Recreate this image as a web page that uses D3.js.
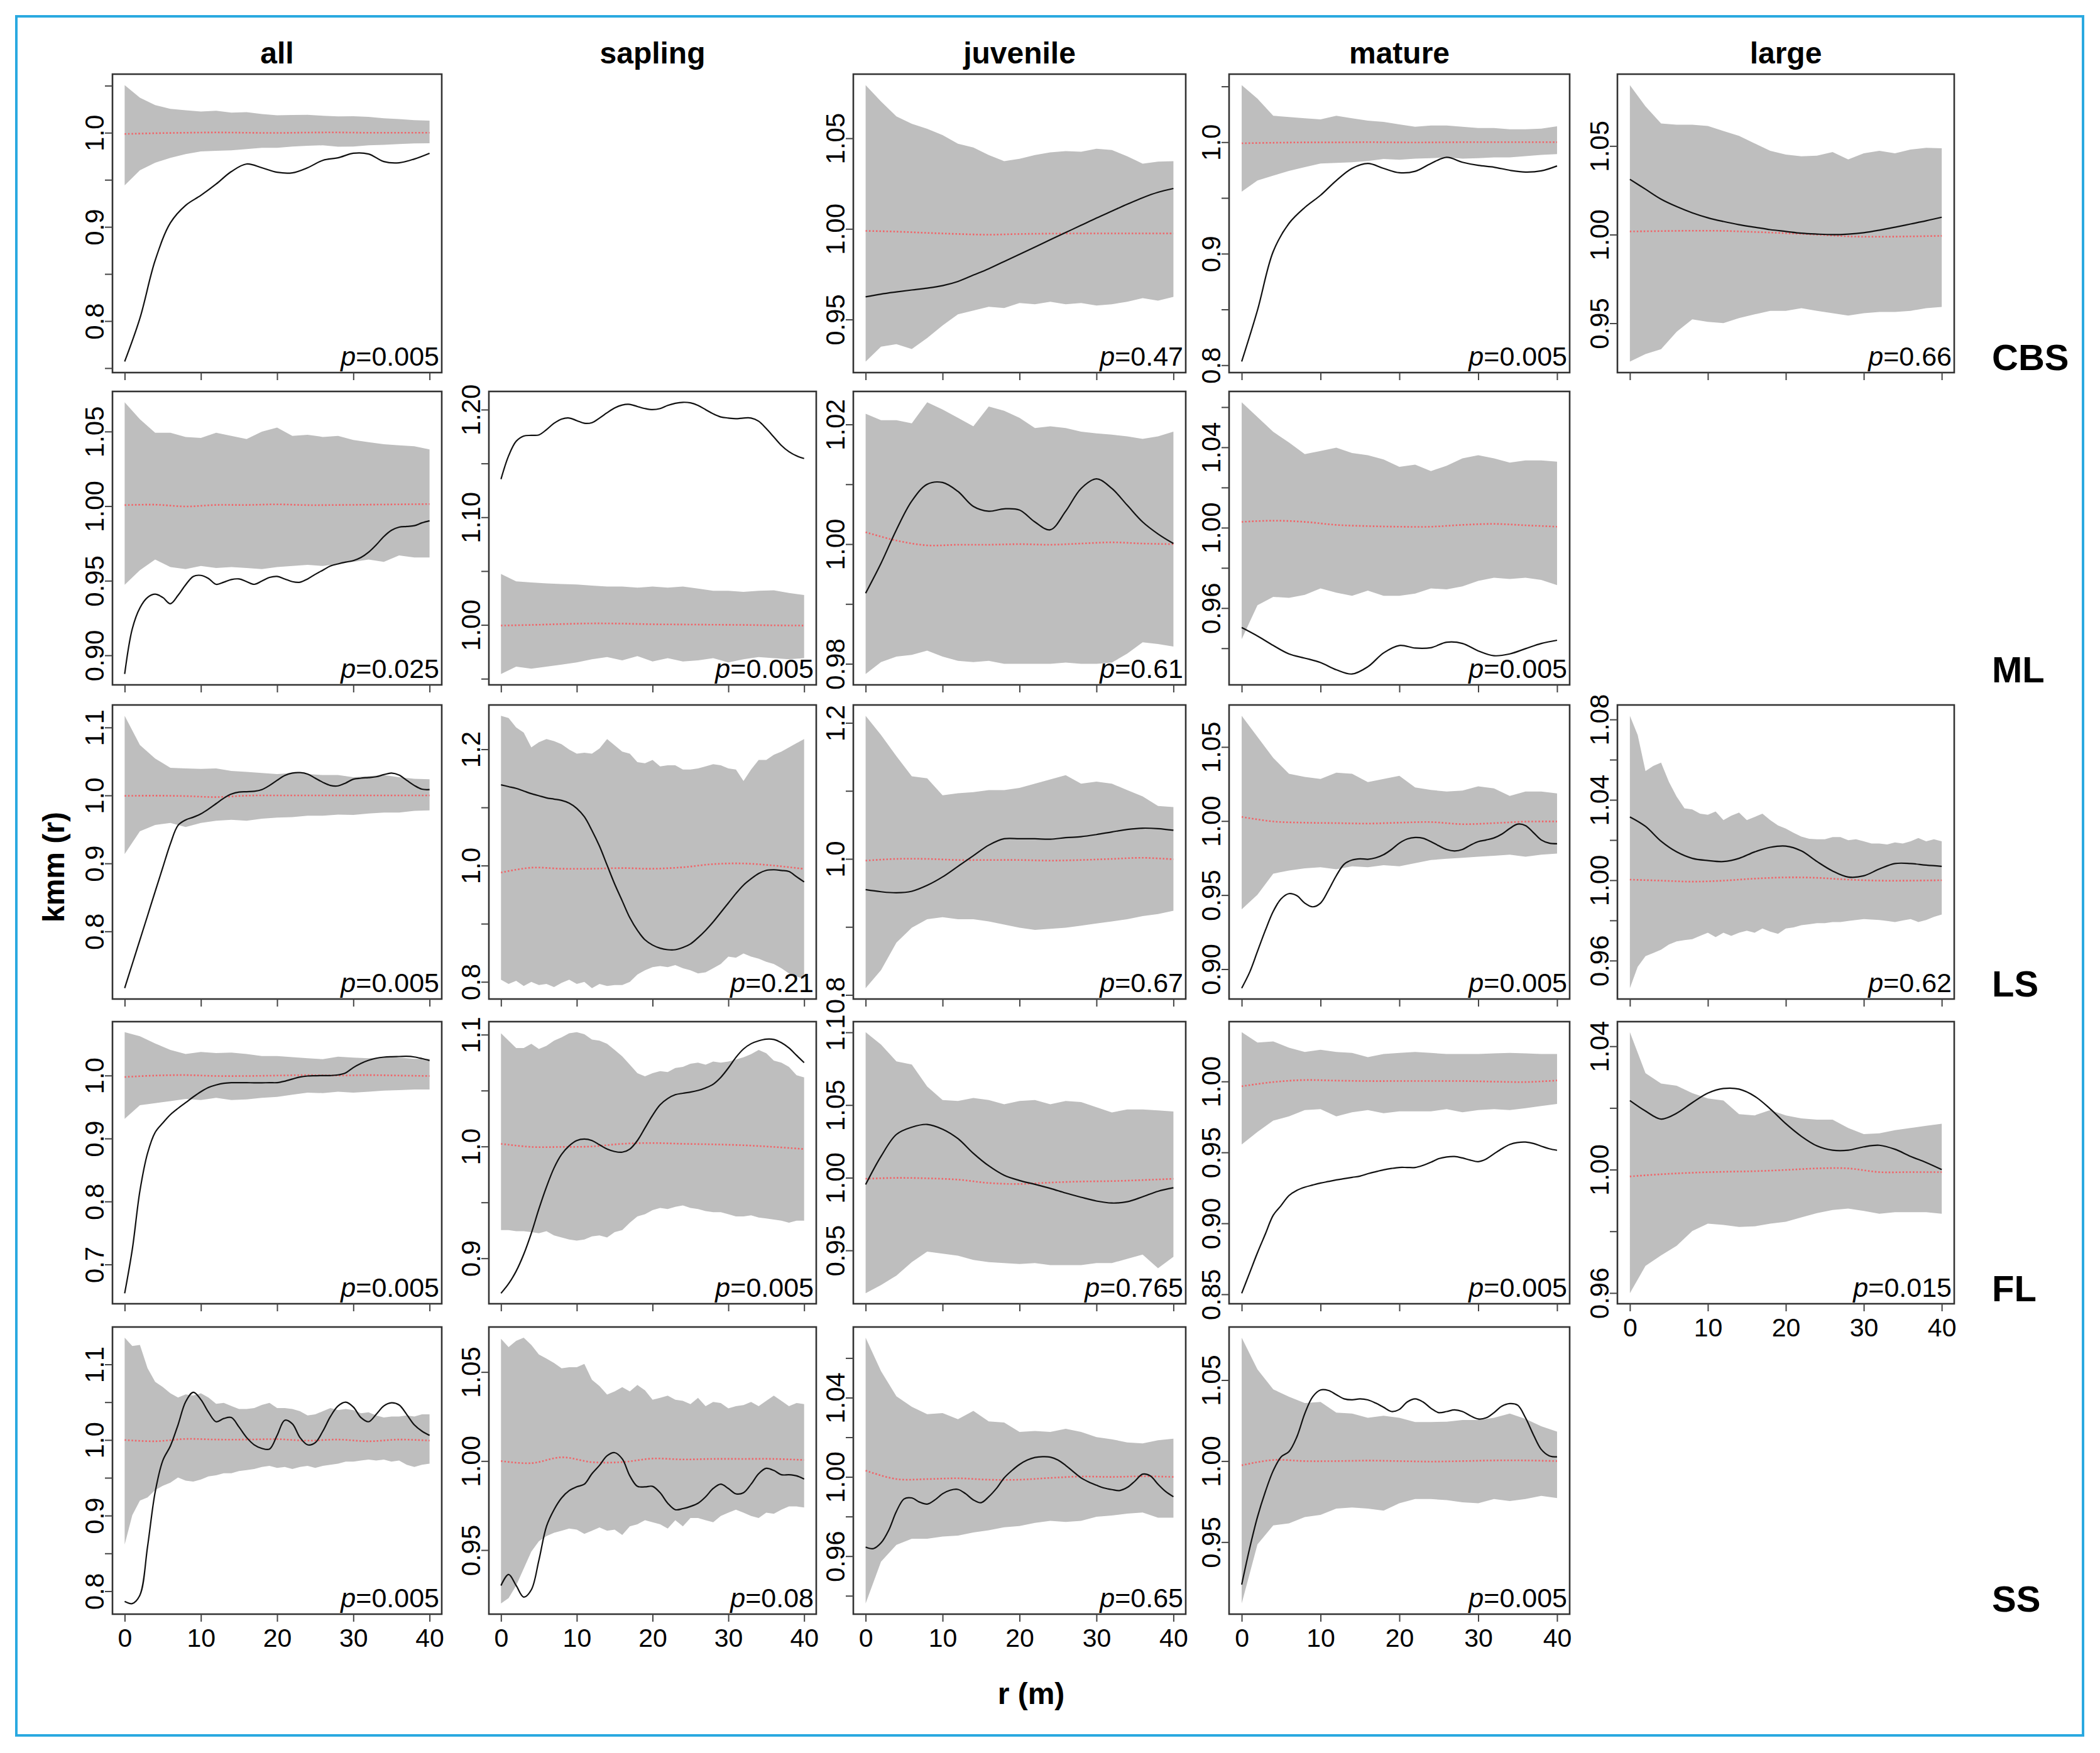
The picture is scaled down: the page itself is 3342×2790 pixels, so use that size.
<!DOCTYPE html>
<html lang="en">
<head>
<meta charset="utf-8">
<style>
  body { margin: 0; background: #fff; }
  svg { display: block; font-family: "Liberation Sans", Arial, Helvetica, sans-serif; }
</style>
</head>
<body>
<div id="chart"></div>
<script src="https://cdn.jsdelivr.net/npm/d3@7"></script>
<script>
// distance grids (m) used by the series below
const r1 = [0,1,2,3,4,5,6,7,8,9,10,11,12,13,14,15,16,17,18,19,20,21,22,23,24,25,26,27,28,29,30,31,32,33,34,35,36,37,38,39,40];
const r2 = [0,2,4,6,8,10,12,14,16,18,20,22,24,26,28,30,32,34,36,38,40];
const r4 = [0,4,8,12,16,20,24,28,32,36,40];

const sizeClasses = ["all", "sapling", "juvenile", "mature", "large"];
const habitats = ["CBS", "ML", "LS", "FL", "SS"];
const xTicks = [0, 10, 20, 30, 40];

// p values per habitat row (null = no panel)
const p_CBS = ["0.005", null, "0.47", "0.005", "0.66"];
const p_ML  = ["0.025", "0.005", "0.61", "0.005", null];
const p_LS  = ["0.005", "0.21", "0.67", "0.005", "0.62"];
const p_FL  = ["0.005", "0.005", "0.765", "0.005", "0.015"];
const p_SS  = ["0.005", "0.08", "0.65", "0.005", null];

// ---- CBS ----
const hi_CBS_all = [1.0505,1.0372,1.0293,1.0253,1.0239,1.0226,1.0234,1.0213,1.0218,1.0199,1.0186,1.0188,1.0191,1.0181,1.0173,1.0176,1.0168,1.0154,1.0146,1.0133,1.0128];
const lo_CBS_all = [0.9441,0.9601,0.9681,0.9734,0.9774,0.9801,0.9809,0.9814,0.9827,0.984,0.984,0.9854,0.9862,0.9867,0.9851,0.9854,0.9867,0.9872,0.988,0.9886,0.9888];
const mean_CBS_all = [0.9987,0.9995,1.0,1.0003,1.0,0.9998,1.0002,1.0003,1.0,1.0,1.0];
const obs_CBS_all = [0.757,0.803,0.8644,0.9043,0.9229,0.9335,0.9455,0.9588,0.9668,0.9628,0.958,0.9574,0.9628,0.9707,0.9734,0.9782,0.9774,0.9694,0.9681,0.9721,0.9782];
const yt_CBS_all = [0.75,0.8,0.85,0.9,0.95,1.0,1.05];
const yl_CBS_all = ["0.8","0.9","1.0"];

const hi_CBS_juvenile = [1.0793,1.0703,1.0621,1.058,1.0552,1.0518,1.047,1.0449,1.0408,1.0374,1.0387,1.0408,1.0422,1.0429,1.0426,1.0442,1.0435,1.0401,1.036,1.0371,1.0374];
const lo_CBS_juvenile = [0.9268,0.935,0.9364,0.9337,0.9398,0.9467,0.9529,0.9549,0.957,0.9563,0.9591,0.9584,0.9598,0.9584,0.9591,0.9577,0.9584,0.9598,0.9618,0.9604,0.9625];
const mean_CBS_juvenile = [0.9989,0.9985,0.9978,0.9972,0.9968,0.9972,0.9974,0.9975,0.9975,0.9975,0.9975];
const obs_CBS_juvenile = [0.9625,0.964,0.9652,0.9663,0.9673,0.9687,0.971,0.9745,0.978,0.982,0.986,0.99,0.994,0.998,1.002,1.006,1.0098,1.0136,1.0172,1.0202,1.0223];
const yt_CBS_juvenile = [0.95,1.0,1.05];
const yl_CBS_juvenile = ["0.95","1.00","1.05"];

const hi_CBS_mature = [1.0511,1.039,1.0237,1.0226,1.0215,1.0204,1.0237,1.0215,1.0193,1.0182,1.016,1.0138,1.0149,1.0149,1.0138,1.0127,1.0127,1.0116,1.0116,1.0121,1.0143];
const lo_CBS_mature = [0.9557,0.9656,0.97,0.9743,0.9776,0.9809,0.9814,0.982,0.9831,0.9849,0.9842,0.9853,0.9857,0.9864,0.9853,0.9857,0.9864,0.9864,0.9875,0.9886,0.9893];
const mean_CBS_mature = [0.999,0.9995,0.9998,0.9998,1.0,0.9998,0.9998,1.0,1.0,1.0,1.0];
const obs_CBS_mature = [0.8033,0.8493,0.902,0.9272,0.9414,0.9524,0.9656,0.9765,0.9809,0.9765,0.9726,0.9739,0.9809,0.9864,0.982,0.9792,0.9776,0.9748,0.9732,0.9743,0.9787];
const yt_CBS_mature = [0.8,0.85,0.9,0.95,1.0,1.05];
const yl_CBS_mature = ["0.8","0.9","1.0"];

const hi_CBS_large = [1.0843,1.0724,1.0627,1.062,1.062,1.0613,1.0585,1.0557,1.0515,1.0473,1.0452,1.0442,1.0445,1.0466,1.0424,1.0459,1.0473,1.0459,1.048,1.049,1.0487];
const lo_CBS_large = [0.9284,0.9326,0.9354,0.9452,0.9522,0.9508,0.9501,0.9529,0.955,0.957,0.957,0.9585,0.957,0.9557,0.9543,0.9557,0.9564,0.9564,0.957,0.9585,0.9592];
const mean_CBS_large = [1.0018,1.002,1.0022,1.0021,1.0015,1.0008,1.0,0.999,0.9988,0.999,0.9993];
const obs_CBS_large = [1.0312,1.0256,1.02,1.0158,1.0123,1.0095,1.0074,1.0056,1.0042,1.0028,1.0018,1.0008,1.0003,1.0,1.0003,1.0011,1.0025,1.0042,1.006,1.0078,1.0098];
const yt_CBS_large = [0.95,1.0,1.05];
const yl_CBS_large = ["0.95","1.00","1.05"];

// ---- ML ----
const hi_ML_all = [1.0696,1.0583,1.0492,1.0492,1.0464,1.0457,1.0492,1.0471,1.045,1.0499,1.0527,1.0471,1.0478,1.0464,1.0471,1.0443,1.0429,1.0415,1.0408,1.0401,1.038];
const lo_ML_all = [0.9473,0.9571,0.9642,0.9592,0.9578,0.9599,0.9585,0.9592,0.9585,0.9578,0.9592,0.9599,0.9606,0.9599,0.9613,0.9627,0.9642,0.9627,0.967,0.9656,0.9656];
const mean_ML_all = [1.0007,1.001,0.9998,1.0008,1.0008,1.0012,1.0007,1.0008,1.001,1.0012,1.0014];
const obs_ML_all = [0.8875,0.9178,0.9318,0.9388,0.941,0.9388,0.9346,0.9402,0.9473,0.9529,0.9536,0.9515,0.9476,0.949,0.9508,0.9512,0.9494,0.9476,0.9498,0.9522,0.9529,0.9512,0.9494,0.949,0.9512,0.9543,0.9571,0.9599,0.9613,0.9625,0.9635,0.9656,0.9691,0.974,0.9796,0.9838,0.9859,0.9864,0.9869,0.9888,0.9902];
const yt_ML_all = [0.9,0.95,1.0,1.05];
const yl_ML_all = ["0.90","0.95","1.00","1.05"];

const hi_ML_sapling = [1.0474,1.0405,1.0395,1.0386,1.038,1.0376,1.0366,1.0356,1.0356,1.0346,1.0356,1.0346,1.0356,1.0337,1.0317,1.0317,1.0307,1.0317,1.0321,1.0297,1.0278];
const lo_ML_sapling = [0.9544,0.9613,0.9593,0.9613,0.9632,0.9652,0.9681,0.9701,0.9671,0.971,0.9661,0.9691,0.9661,0.9671,0.9691,0.9652,0.9681,0.9701,0.9691,0.9681,0.9691];
const mean_ML_sapling = [0.9994,1.0,1.0008,1.0014,1.0012,1.0006,1.0004,1.0002,1.0,0.9996,0.9994];
const obs_ML_sapling = [1.1354,1.157,1.1706,1.1755,1.1761,1.1765,1.1814,1.1873,1.1912,1.1922,1.1898,1.1873,1.1879,1.1922,1.1971,1.2016,1.2043,1.2049,1.2029,1.201,1.2,1.201,1.2039,1.2059,1.2068,1.2063,1.2039,1.2,1.1961,1.1932,1.1922,1.1916,1.1922,1.1922,1.1892,1.1824,1.1746,1.1667,1.1609,1.157,1.1546];
const yt_ML_sapling = [0.95,1.0,1.05,1.1,1.15,1.2];
const yl_ML_sapling = ["1.00","1.10","1.20"];

const hi_ML_juvenile = [1.0218,1.0207,1.0207,1.0202,1.0237,1.0225,1.0211,1.0197,1.023,1.0223,1.0211,1.0194,1.0197,1.0194,1.0188,1.0185,1.0183,1.018,1.0176,1.018,1.0188];
const lo_ML_juvenile = [0.9783,0.9803,0.9812,0.9815,0.9822,0.9812,0.9805,0.9803,0.9805,0.98,0.98,0.98,0.98,0.9802,0.98,0.98,0.9802,0.9817,0.9836,0.9833,0.9829];
const mean_ML_juvenile = [1.002,1.0006,0.9998,0.9999,0.9999,1.0,0.9999,1.0001,1.0003,1.0001,1.0];
const obs_ML_juvenile = [0.9918,0.9968,1.0024,1.0072,1.01,1.0103,1.0088,1.0063,1.0055,1.0059,1.0057,1.0037,1.0024,1.0055,1.0093,1.0109,1.0093,1.0065,1.0037,1.0017,1.0001];
const yt_ML_juvenile = [0.98,0.99,1.0,1.01,1.02];
const yl_ML_juvenile = ["0.98","1.00","1.02"];

const hi_ML_mature = [1.0624,1.0551,1.0477,1.0424,1.0366,1.0382,1.0398,1.0372,1.0361,1.034,1.0303,1.0314,1.0282,1.0308,1.0345,1.0361,1.0345,1.0324,1.0335,1.0335,1.0329];
const lo_ML_mature = [0.9445,0.9614,0.9656,0.9651,0.9666,0.9698,0.9677,0.9661,0.9687,0.9661,0.9661,0.9672,0.9698,0.9693,0.9708,0.9735,0.9751,0.9745,0.9751,0.974,0.9714];
const mean_ML_mature = [1.0029,1.0035,1.0029,1.0014,1.0008,1.0005,1.0005,1.0014,1.0019,1.0012,1.0005];
const obs_ML_mature = [0.9503,0.9461,0.9414,0.9372,0.9351,0.9329,0.9293,0.9272,0.9308,0.9377,0.9414,0.9401,0.9403,0.943,0.9424,0.9387,0.9363,0.9372,0.9398,0.9424,0.944];
const yt_ML_mature = [0.94,0.96,0.98,1.0,1.02,1.04,1.06];
const yl_ML_mature = ["0.96","1.00","1.04"];

// ---- LS ----
const hi_LS_all = [1.1171,1.0743,1.0544,1.0407,1.0398,1.0391,1.0398,1.0361,1.0346,1.033,1.0315,1.033,1.0315,1.03,1.03,1.0269,1.0284,1.03,1.0269,1.0245,1.0239];
const lo_LS_all = [0.9138,0.9474,0.9566,0.9596,0.9535,0.9596,0.9627,0.9642,0.9627,0.9657,0.9673,0.9682,0.9703,0.9703,0.9719,0.9713,0.9734,0.9749,0.9749,0.9774,0.978];
const mean_LS_all = [0.9994,0.9997,0.9991,0.9976,0.9997,1.0,1.0,1.0,1.0,1.0,1.0];
const obs_LS_all = [0.7165,0.752,0.7875,0.823,0.8587,0.894,0.929,0.956,0.964,0.968,0.973,0.98,0.988,0.996,1.002,1.005,1.0055,1.0061,1.0086,1.0147,1.0223,1.0294,1.033,1.0336,1.0315,1.0254,1.0193,1.0147,1.0141,1.0183,1.0239,1.0254,1.0263,1.0275,1.0306,1.033,1.03,1.0223,1.0147,1.0092,1.0086];
const yt_LS_all = [0.8,0.9,1.0,1.1];
const yl_LS_all = ["0.8","0.9","1.0","1.1"];

const hi_LS_sapling = [1.2575,1.2539,1.2376,1.2286,1.2033,1.2123,1.2177,1.2141,1.2087,1.1996,1.1924,1.1942,1.1924,1.2014,1.2177,1.2069,1.196,1.1924,1.1779,1.1761,1.1816,1.1707,1.1725,1.1725,1.1653,1.1653,1.1671,1.1707,1.1743,1.1725,1.1671,1.1653,1.1454,1.1653,1.1816,1.1816,1.1906,1.196,1.2033,1.2105,1.2177];
const lo_LS_sapling = [0.8036,0.7964,0.8018,0.7928,0.8,0.7946,0.7964,0.791,0.7982,0.8036,0.7964,0.8,0.7892,0.7964,0.7928,0.7946,0.7946,0.8,0.8127,0.8199,0.8253,0.8271,0.8253,0.8289,0.8235,0.8199,0.8145,0.8163,0.8235,0.8307,0.8434,0.8416,0.8488,0.8434,0.8398,0.8344,0.8307,0.8235,0.8145,0.809,0.8054];
const mean_LS_sapling = [0.988,0.9964,0.9946,0.9946,0.9957,0.9946,0.9971,1.0025,1.0036,1.0,0.9942];
const obs_LS_sapling = [1.1389,1.1358,1.1327,1.1282,1.1237,1.1201,1.1165,1.1143,1.1121,1.1074,1.0984,1.0839,1.0604,1.0333,1.0007,0.9682,0.9392,0.9103,0.8886,0.8723,0.8633,0.8579,0.8553,0.8553,0.859,0.8651,0.876,0.8886,0.9031,0.9193,0.9356,0.9519,0.9664,0.9772,0.9863,0.9917,0.9928,0.9917,0.9899,0.9808,0.9718];
const yt_LS_sapling = [0.8,0.9,1.0,1.1,1.2];
const yl_LS_sapling = ["0.8","1.0","1.2"];

const hi_LS_juvenile = [1.2103,1.1822,1.1511,1.1215,1.1184,1.0935,1.0966,1.0981,1.1012,1.1012,1.1044,1.1106,1.1168,1.123,1.1106,1.1137,1.1106,1.1012,1.0919,1.0779,1.0763];
const lo_LS_juvenile = [0.81,0.8364,0.8769,0.8988,0.9112,0.9143,0.9112,0.9112,0.9081,0.9034,0.8988,0.8956,0.8972,0.8988,0.9019,0.905,0.9081,0.9112,0.9159,0.919,0.9237];
const mean_LS_juvenile = [0.9975,1.0,1.0,0.9984,0.9984,0.9984,0.9975,0.9984,1.0,1.0016,0.9994];
const obs_LS_juvenile = [0.9548,0.9517,0.9502,0.9524,0.9611,0.9735,0.9891,1.0047,1.0202,1.0296,1.0296,1.0296,1.029,1.0312,1.0327,1.0358,1.0396,1.0433,1.0452,1.0445,1.0421];
const yt_LS_juvenile = [0.8,0.9,1.0,1.1,1.2];
const yl_LS_juvenile = ["0.8","1.0","1.2"];

const hi_LS_mature = [1.071,1.0568,1.0426,1.0319,1.0298,1.0284,1.0326,1.0319,1.0263,1.0284,1.0305,1.0227,1.021,1.0199,1.0206,1.0234,1.022,1.017,1.0199,1.0199,1.0187];
const lo_LS_mature = [0.9404,0.9503,0.9645,0.9666,0.9681,0.9688,0.9674,0.9695,0.9688,0.9702,0.9695,0.9716,0.9737,0.9745,0.9752,0.9759,0.9766,0.9773,0.9759,0.9773,0.978];
const mean_LS_mature = [1.0028,0.9997,0.9989,0.9986,0.9983,0.9989,0.9993,0.9979,0.9986,0.9996,0.9997];
const obs_LS_mature = [0.8872,0.8978,0.912,0.9262,0.939,0.9475,0.951,0.9496,0.9446,0.9421,0.9446,0.9532,0.9631,0.9709,0.9737,0.9745,0.9742,0.9752,0.9773,0.9808,0.9851,0.9879,0.9889,0.9884,0.9861,0.9833,0.9808,0.9798,0.9808,0.9837,0.9861,0.9872,0.9886,0.9912,0.995,0.9979,0.9969,0.9922,0.9872,0.9851,0.9847];
const yt_LS_mature = [0.9,0.95,1.0,1.05];
const yl_LS_mature = ["0.90","0.95","1.00","1.05"];

const hi_LS_large = [1.0818,1.0723,1.0543,1.0569,1.0585,1.049,1.0416,1.0358,1.0352,1.0331,1.0326,1.0342,1.0299,1.0321,1.0337,1.0299,1.0315,1.0331,1.0299,1.0273,1.0257,1.0236,1.0217,1.0206,1.0204,1.0204,1.0215,1.0215,1.0199,1.0204,1.0194,1.0183,1.0183,1.0178,1.0188,1.0183,1.0194,1.021,1.0194,1.0204,1.0194];
const lo_LS_large = [0.9463,0.9569,0.9622,0.9638,0.9654,0.968,0.9696,0.9702,0.9707,0.9723,0.9739,0.9717,0.9739,0.9723,0.9739,0.9749,0.9739,0.976,0.9744,0.9733,0.976,0.9765,0.9776,0.9781,0.9786,0.9786,0.9792,0.9792,0.9797,0.9802,0.9807,0.9804,0.9802,0.9797,0.9792,0.98,0.9807,0.9792,0.9802,0.9818,0.9829];
const mean_LS_large = [1.0003,0.9998,0.9993,0.9998,1.0008,1.0014,1.0012,1.0003,0.9998,0.9998,1.0];
const obs_LS_large = [1.0315,1.0268,1.0194,1.0141,1.0109,1.0098,1.0093,1.0109,1.0141,1.0164,1.017,1.0146,1.0093,1.0046,1.0016,1.0022,1.0056,1.0083,1.0083,1.0075,1.0069];
const yt_LS_large = [0.96,0.98,1.0,1.02,1.04,1.06,1.08];
const yl_LS_large = ["0.96","1.00","1.04","1.08"];

// ---- FL ----
const hi_FL_all = [1.069,1.0624,1.0508,1.0408,1.0342,1.0375,1.0358,1.0365,1.0342,1.0309,1.0309,1.0292,1.0275,1.0259,1.0299,1.0285,1.0275,1.0292,1.0285,1.0266,1.0266];
const lo_FL_all = [0.9313,0.9529,0.9562,0.9595,0.9628,0.9612,0.9645,0.9612,0.9622,0.9645,0.9661,0.9695,0.9728,0.9721,0.9744,0.9728,0.9744,0.9761,0.9768,0.9778,0.9778];
const mean_FL_all = [0.9977,1.0,1.0007,0.9993,0.9993,1.0,1.0007,1.0,1.0007,1.0,0.9993];
const obs_FL_all = [0.6542,0.7239,0.8168,0.8765,0.9097,0.9247,0.9379,0.9479,0.9569,0.9661,0.9744,0.9811,0.9851,0.9877,0.9887,0.9887,0.9887,0.9884,0.9884,0.9887,0.9887,0.991,0.9944,0.9977,0.9993,0.9997,1.0,1.0,1.001,1.0043,1.0126,1.0192,1.0242,1.0275,1.0292,1.0299,1.0302,1.0305,1.0295,1.027,1.0239];
const yt_FL_all = [0.7,0.8,0.9,1.0];
const yl_FL_all = ["0.7","0.8","0.9","1.0"];

const hi_FL_sapling = [1.1013,1.0947,1.0881,1.0881,1.0919,1.0872,1.09,1.0947,1.0976,1.1013,1.1023,1.1004,1.0957,1.0947,1.0919,1.0863,1.0806,1.0731,1.0655,1.0627,1.0655,1.0674,1.0665,1.0702,1.0712,1.074,1.075,1.0731,1.0759,1.075,1.0759,1.0778,1.0797,1.0825,1.0863,1.0834,1.0768,1.075,1.0712,1.0637,1.0618];
const lo_FL_sapling = [0.9252,0.9252,0.9243,0.9243,0.9234,0.9224,0.9243,0.9205,0.9186,0.9168,0.9158,0.9168,0.9196,0.9205,0.9186,0.9234,0.9252,0.9318,0.9375,0.9394,0.9431,0.945,0.9441,0.946,0.9473,0.945,0.9441,0.9422,0.9412,0.9412,0.9394,0.9375,0.9375,0.9384,0.9365,0.9356,0.9347,0.9337,0.9318,0.9337,0.9337];
const mean_FL_sapling = [1.0024,0.9996,0.9996,1.0,1.0024,1.0031,1.0024,1.0019,1.0011,0.9996,0.9977];
const obs_FL_sapling = [0.8687,0.8772,0.8885,0.9036,0.9224,0.9441,0.9638,0.9808,0.993,1.0006,1.0053,1.0066,1.0053,1.0015,0.9977,0.9955,0.9949,0.9977,1.0053,1.0166,1.0279,1.0373,1.0429,1.0463,1.0476,1.0486,1.0501,1.0524,1.0557,1.0618,1.0702,1.0797,1.0872,1.0919,1.0945,1.096,1.0957,1.0928,1.0881,1.0815,1.075];
const yt_FL_sapling = [0.9,0.95,1.0,1.05,1.1];
const yl_FL_sapling = ["0.9","1.0","1.1"];

const hi_FL_juvenile = [1.1002,1.0916,1.0801,1.0779,1.0628,1.0535,1.0528,1.0549,1.0535,1.0506,1.0528,1.0535,1.0506,1.0528,1.0521,1.0485,1.0449,1.047,1.047,1.0463,1.0456];
const lo_FL_juvenile = [0.9205,0.9262,0.9327,0.942,0.9492,0.9478,0.9464,0.9435,0.942,0.9413,0.9406,0.9413,0.9399,0.9399,0.9399,0.9413,0.9413,0.9442,0.9471,0.9377,0.9456];
const mean_FL_juvenile = [0.9993,0.9999,0.9996,0.9987,0.9964,0.9957,0.9967,0.9974,0.9977,0.9984,0.9993];
const obs_FL_juvenile = [0.9953,1.0147,1.0298,1.0348,1.0367,1.0334,1.0269,1.0168,1.0082,1.0017,0.9981,0.9955,0.9927,0.9895,0.9866,0.984,0.9826,0.9835,0.9869,0.9907,0.9931];
const yt_FL_juvenile = [0.95,1.0,1.05,1.1];
const yl_FL_juvenile = ["0.95","1.00","1.05","1.1"];

const hi_FL_mature = [1.0348,1.0274,1.0282,1.0238,1.0208,1.0223,1.0208,1.0201,1.0172,1.0194,1.0201,1.0208,1.0201,1.0194,1.0194,1.0194,1.0198,1.0201,1.0198,1.0194,1.0194];
const lo_FL_mature = [0.9556,0.9644,0.9724,0.9754,0.9798,0.9805,0.9754,0.9783,0.9798,0.9776,0.979,0.979,0.979,0.9805,0.9783,0.9798,0.9805,0.9798,0.9812,0.9827,0.9842];
const mean_FL_mature = [0.9966,0.9996,1.001,1.0006,1.0003,1.0003,1.0003,1.0003,0.9999,0.9996,1.0007];
const obs_FL_mature = [0.8507,0.865,0.8793,0.8925,0.9057,0.9126,0.9196,0.9233,0.9255,0.927,0.9284,0.9295,0.9306,0.9315,0.9324,0.9333,0.935,0.9364,0.9377,0.9387,0.9394,0.9394,0.9394,0.9409,0.9431,0.9456,0.9468,0.9471,0.9461,0.9446,0.9435,0.9453,0.949,0.9526,0.9556,0.957,0.9573,0.9563,0.9544,0.9526,0.9515];
const yt_FL_mature = [0.85,0.9,0.95,1.0];
const yl_FL_mature = ["0.85","0.90","0.95","1.00"];

const hi_FL_large = [1.0446,1.0313,1.0279,1.0272,1.0248,1.0231,1.0224,1.018,1.0176,1.0193,1.0176,1.0166,1.0162,1.0162,1.0135,1.0115,1.0118,1.0128,1.0135,1.0142,1.0149];
const lo_FL_large = [0.9599,0.9688,0.9722,0.9753,0.9801,0.9825,0.9821,0.9814,0.9816,0.9825,0.9831,0.9845,0.9859,0.9869,0.9874,0.9866,0.9857,0.9862,0.9862,0.9862,0.9857];
const mean_FL_large = [0.9978,0.9985,0.999,0.9993,0.9995,0.9999,1.0004,1.0004,0.9992,0.9992,0.9992];
const obs_FL_large = [1.0224,1.019,1.0164,1.0183,1.0217,1.0248,1.0263,1.0261,1.0238,1.0197,1.0149,1.0108,1.0077,1.0063,1.0063,1.0074,1.0079,1.0066,1.0043,1.0023,1.0];
const yt_FL_large = [0.96,0.98,1.0,1.02,1.04];
const yl_FL_large = ["0.96","1.00","1.04"];

// ---- SS ----
const hi_SS_all = [1.1354,1.1243,1.1257,1.0951,1.077,1.0701,1.0617,1.0562,1.0603,1.0589,1.0617,1.0562,1.0478,1.0492,1.045,1.0409,1.0409,1.0423,1.0464,1.0492,1.0423,1.0423,1.0409,1.0381,1.0325,1.0339,1.0381,1.0423,1.0395,1.0409,1.0395,1.0353,1.0367,1.0325,1.0297,1.0311,1.0311,1.0325,1.0311,1.0339,1.0339];
const lo_SS_all = [0.8616,0.9005,0.9199,0.9241,0.9338,0.9394,0.9436,0.9505,0.9463,0.945,0.9477,0.9519,0.9533,0.9561,0.9561,0.9589,0.9602,0.9616,0.9644,0.9658,0.963,0.9644,0.9616,0.9644,0.9658,0.963,0.9658,0.9672,0.9686,0.9714,0.9714,0.9728,0.9741,0.9728,0.9741,0.9714,0.9728,0.9672,0.9644,0.9672,0.9686];
const mean_SS_all = [1.0,0.9983,1.0014,1.0006,1.0006,1.0011,0.9992,1.0006,0.9983,1.0006,0.9992];
const obs_SS_all = [0.7865,0.7837,0.7948,0.8588,0.9311,0.9728,0.9922,1.02,1.0506,1.0631,1.0534,1.0367,1.0242,1.0284,1.0297,1.0172,1.0033,0.9936,0.9889,0.988,1.0061,1.0261,1.0214,1.0033,0.9936,0.9964,1.0117,1.0311,1.045,1.05,1.0436,1.0297,1.0242,1.0339,1.045,1.0492,1.0464,1.0339,1.02,1.0117,1.0061];
const yt_SS_all = [0.8,0.85,0.9,0.95,1.0,1.05,1.1];
const yl_SS_all = ["0.8","0.9","1.0","1.1"];

const hi_SS_sapling = [1.0687,1.064,1.0675,1.0693,1.0652,1.0598,1.0575,1.0551,1.0521,1.0527,1.0527,1.0545,1.0456,1.0421,1.0373,1.0391,1.0415,1.0391,1.0427,1.0397,1.0344,1.0355,1.0367,1.0344,1.0338,1.032,1.0355,1.0308,1.0332,1.0326,1.0296,1.0308,1.0314,1.0332,1.0308,1.0338,1.0367,1.0338,1.0308,1.0326,1.032];
const lo_SS_sapling = [0.92,0.923,0.9301,0.9396,0.9491,0.955,0.9579,0.9597,0.9609,0.9621,0.9615,0.9591,0.9609,0.9627,0.9609,0.9615,0.9585,0.9633,0.9645,0.9668,0.9656,0.9645,0.9621,0.9668,0.9633,0.968,0.968,0.9668,0.9656,0.9692,0.971,0.9727,0.971,0.9692,0.968,0.971,0.9704,0.9727,0.9745,0.9745,0.9739];
const mean_SS_sapling = [1.0,0.9988,1.0021,0.9994,0.9994,1.0014,1.0009,1.0012,1.0012,1.0012,1.0006];
const obs_SS_sapling = [0.9301,0.9363,0.9301,0.9236,0.9277,0.9443,0.9633,0.9727,0.9793,0.9834,0.9856,0.987,0.9929,0.9976,1.003,1.0047,1.0012,0.9917,0.9858,0.9855,0.9858,0.9822,0.9763,0.9727,0.9733,0.9745,0.9763,0.9799,0.9846,0.987,0.9846,0.9816,0.9822,0.987,0.9929,0.9959,0.9947,0.9923,0.9923,0.9917,0.9899];
const yt_SS_sapling = [0.95,1.0,1.05];
const yl_SS_sapling = ["0.95","1.00","1.05"];

const hi_SS_juvenile = [1.0703,1.0534,1.0407,1.0354,1.0317,1.0322,1.0291,1.0333,1.028,1.0275,1.0227,1.0232,1.0227,1.0243,1.0227,1.0201,1.019,1.0174,1.0169,1.0185,1.0193];
const lo_SS_juvenile = [0.9361,0.9572,0.9657,0.9688,0.9688,0.9699,0.9704,0.972,0.9731,0.9746,0.9752,0.9768,0.9778,0.9773,0.9778,0.9799,0.9805,0.9815,0.982,0.9794,0.9794];
const mean_SS_juvenile = [1.0032,0.9989,0.9989,0.9993,0.9986,0.9986,0.9995,1.0002,1.0,1.0003,1.0];
const obs_SS_juvenile = [0.9646,0.9638,0.9667,0.9731,0.9826,0.9889,0.9894,0.9873,0.9863,0.9884,0.9915,0.9933,0.9937,0.9915,0.9884,0.987,0.99,0.9942,0.9995,1.0032,1.0063,1.0085,1.0098,1.0102,1.01,1.0085,1.0058,1.0026,0.9995,0.9974,0.9958,0.9944,0.9936,0.9931,0.9947,0.9979,1.0014,1.0005,0.9963,0.9926,0.99];
const yt_SS_juvenile = [0.94,0.96,0.98,1.0,1.02,1.04,1.06];
const yl_SS_juvenile = ["0.96","1.00","1.04"];

const hi_SS_mature = [1.0762,1.0566,1.0443,1.0397,1.0358,1.0365,1.0299,1.0293,1.0267,1.028,1.0267,1.0241,1.0241,1.0243,1.0254,1.0254,1.0267,1.0293,1.026,1.0215,1.0182];
const lo_SS_mature = [0.9121,0.9486,0.9603,0.9616,0.9655,0.9668,0.9707,0.9714,0.9707,0.9694,0.974,0.9766,0.9766,0.9759,0.9746,0.974,0.9766,0.9753,0.9766,0.9785,0.9772];
const mean_SS_mature = [0.9974,1.0007,1.0,1.0,1.0003,1.0,0.9997,1.0,1.0004,1.0004,1.0];
const obs_SS_mature = [0.9238,0.946,0.9655,0.9811,0.9941,1.0026,1.0059,1.015,1.0293,1.0397,1.0439,1.0436,1.041,1.0384,1.0378,1.0384,1.0378,1.0358,1.0332,1.0306,1.0319,1.0365,1.0384,1.0365,1.0326,1.0299,1.0306,1.0316,1.0306,1.028,1.026,1.0267,1.0299,1.0339,1.0355,1.0345,1.0267,1.0163,1.0072,1.0033,1.0026];
const yt_SS_mature = [0.95,1.0,1.05];
const yl_SS_mature = ["0.95","1.00","1.05"];

// table of panels: habitat, size class, envelope hi/lo, theoretical mean, observed, y ticks, y labels
const panels = [
  ["CBS","all",hi_CBS_all,lo_CBS_all,mean_CBS_all,obs_CBS_all,yt_CBS_all,yl_CBS_all],
  ["CBS","juvenile",hi_CBS_juvenile,lo_CBS_juvenile,mean_CBS_juvenile,obs_CBS_juvenile,yt_CBS_juvenile,yl_CBS_juvenile],
  ["CBS","mature",hi_CBS_mature,lo_CBS_mature,mean_CBS_mature,obs_CBS_mature,yt_CBS_mature,yl_CBS_mature],
  ["CBS","large",hi_CBS_large,lo_CBS_large,mean_CBS_large,obs_CBS_large,yt_CBS_large,yl_CBS_large],
  ["ML","all",hi_ML_all,lo_ML_all,mean_ML_all,obs_ML_all,yt_ML_all,yl_ML_all],
  ["ML","sapling",hi_ML_sapling,lo_ML_sapling,mean_ML_sapling,obs_ML_sapling,yt_ML_sapling,yl_ML_sapling],
  ["ML","juvenile",hi_ML_juvenile,lo_ML_juvenile,mean_ML_juvenile,obs_ML_juvenile,yt_ML_juvenile,yl_ML_juvenile],
  ["ML","mature",hi_ML_mature,lo_ML_mature,mean_ML_mature,obs_ML_mature,yt_ML_mature,yl_ML_mature],
  ["LS","all",hi_LS_all,lo_LS_all,mean_LS_all,obs_LS_all,yt_LS_all,yl_LS_all],
  ["LS","sapling",hi_LS_sapling,lo_LS_sapling,mean_LS_sapling,obs_LS_sapling,yt_LS_sapling,yl_LS_sapling],
  ["LS","juvenile",hi_LS_juvenile,lo_LS_juvenile,mean_LS_juvenile,obs_LS_juvenile,yt_LS_juvenile,yl_LS_juvenile],
  ["LS","mature",hi_LS_mature,lo_LS_mature,mean_LS_mature,obs_LS_mature,yt_LS_mature,yl_LS_mature],
  ["LS","large",hi_LS_large,lo_LS_large,mean_LS_large,obs_LS_large,yt_LS_large,yl_LS_large],
  ["FL","all",hi_FL_all,lo_FL_all,mean_FL_all,obs_FL_all,yt_FL_all,yl_FL_all],
  ["FL","sapling",hi_FL_sapling,lo_FL_sapling,mean_FL_sapling,obs_FL_sapling,yt_FL_sapling,yl_FL_sapling],
  ["FL","juvenile",hi_FL_juvenile,lo_FL_juvenile,mean_FL_juvenile,obs_FL_juvenile,yt_FL_juvenile,yl_FL_juvenile],
  ["FL","mature",hi_FL_mature,lo_FL_mature,mean_FL_mature,obs_FL_mature,yt_FL_mature,yl_FL_mature],
  ["FL","large",hi_FL_large,lo_FL_large,mean_FL_large,obs_FL_large,yt_FL_large,yl_FL_large],
  ["SS","all",hi_SS_all,lo_SS_all,mean_SS_all,obs_SS_all,yt_SS_all,yl_SS_all],
  ["SS","sapling",hi_SS_sapling,lo_SS_sapling,mean_SS_sapling,obs_SS_sapling,yt_SS_sapling,yl_SS_sapling],
  ["SS","juvenile",hi_SS_juvenile,lo_SS_juvenile,mean_SS_juvenile,obs_SS_juvenile,yt_SS_juvenile,yl_SS_juvenile],
  ["SS","mature",hi_SS_mature,lo_SS_mature,mean_SS_mature,obs_SS_mature,yt_SS_mature,yl_SS_mature]
];
const pByHab = {CBS: p_CBS, ML: p_ML, LS: p_LS, FL: p_FL, SS: p_SS};

// ---------------- layout ----------------
const W = 3342, H = 2790;
const colL = [179, 778, 1358, 1956, 2574];
const colR = [703, 1299, 1887, 2498, 3110];
const rowT = [118, 623, 1122, 1626, 2112];
const rowB = [593, 1090, 1590, 2075, 2569];
const FONT = '"Liberation Sans", Arial, Helvetica, sans-serif';

const grid = a => a.length === 41 ? r1 : a.length === 21 ? r2 : r4;

const svg = d3.select("#chart").append("svg")
    .attr("width", W)
    .attr("height", H);

svg.append("rect").attr("width", W).attr("height", H).attr("fill", "#fff");
svg.append("rect")
    .attr("x", 26).attr("y", 26)
    .attr("width", 3289).attr("height", 2736)
    .attr("fill", "none")
    .attr("stroke", "#2aa9e0")
    .attr("stroke-width", 4);

// lowest panel of each column carries the x labels
const bottomRow = sizeClasses.map(c =>
    d3.max(panels.filter(p => p[1] === c), p => habitats.indexOf(p[0])));

panels.forEach(function (p) {
    const [hab, cls, hi, lo, mean, obs, yt, yl] = p;
    const ri = habitats.indexOf(hab), ci = sizeClasses.indexOf(cls);
    const x0 = colL[ci], x1 = colR[ci], y0 = rowT[ri], y1 = rowB[ri];

    // R style ranges: data range widened by 4 %
    const xs = d3.scaleLinear().domain([-1.6, 41.6]).range([x0, x1]);
    const ext = d3.extent(hi.concat(lo, obs));
    const pad = (ext[1] - ext[0]) * 0.04;
    const ys = d3.scaleLinear().domain([ext[0] - pad, ext[1] + pad]).range([y1, y0]);

    const g = svg.append("g");

    const gh = grid(hi);
    const env = hi.map((v, i) => ({r: gh[i], hi: v, lo: lo[i]}));
    g.append("path")
        .datum(env)
        .attr("d", d3.area()
            .x(d => xs(d.r))
            .y0(d => ys(d.lo))
            .y1(d => ys(d.hi)))
        .attr("fill", "#bebebe");

    const line = d3.line()
        .x(d => xs(d.r))
        .y(d => ys(d.v))
        .curve(d3.curveCatmullRom.alpha(0.5));

    const gm = grid(mean);
    g.append("path")
        .datum(mean.map((v, i) => ({r: gm[i], v: v})))
        .attr("d", line)
        .attr("fill", "none")
        .attr("stroke", "#f06468")
        .attr("stroke-width", 2.6)
        .attr("stroke-dasharray", "2.5,3");

    const go = grid(obs);
    g.append("path")
        .datum(obs.map((v, i) => ({r: go[i], v: v})))
        .attr("d", line)
        .attr("fill", "none")
        .attr("stroke", "#111")
        .attr("stroke-width", 2.2);

    g.append("rect")
        .attr("x", x0).attr("y", y0)
        .attr("width", x1 - x0).attr("height", y1 - y0)
        .attr("fill", "none")
        .attr("stroke", "#333")
        .attr("stroke-width", 2.6);

    // y axis, labels parallel to the axis
    const labelFor = v => {
        const s = yl.find(l => Math.abs(+l - v) < 1e-9);
        return s === undefined ? "" : s;
    };
    const ya = g.append("g")
        .attr("transform", "translate(" + x0 + ",0)")
        .call(d3.axisLeft(ys).tickValues(yt).tickSize(12).tickFormat(labelFor));
    ya.select(".domain").remove();
    ya.selectAll(".tick line").attr("stroke", "#444").attr("stroke-width", 2);
    ya.selectAll(".tick text")
        .attr("x", null).attr("dy", null)
        .attr("transform", "translate(-14,0) rotate(-90)")
        .attr("text-anchor", "middle")
        .attr("fill", "#000")
        .attr("font-size", 42)
        .attr("font-family", FONT);

    // x axis
    const isBottom = bottomRow[ci] === ri;
    const xa = g.append("g")
        .attr("transform", "translate(0," + y1 + ")")
        .call(d3.axisBottom(xs).tickValues(xTicks).tickSize(12).tickPadding(11)
            .tickFormat(isBottom ? d3.format("d") : () => ""));
    xa.select(".domain").remove();
    xa.selectAll(".tick line").attr("stroke", "#444").attr("stroke-width", 2);
    xa.selectAll(".tick text")
        .attr("fill", "#000")
        .attr("font-size", 41)
        .attr("font-family", FONT);

    // p value
    const pv = pByHab[hab][ci];
    const t = g.append("text")
        .attr("x", x1 - 4)
        .attr("y", y1 - 11)
        .attr("text-anchor", "end")
        .attr("font-size", 43)
        .attr("font-family", FONT);
    t.append("tspan").attr("font-style", "italic").text("p");
    t.append("tspan").text("=" + pv);
});

// column titles
svg.selectAll("text.coltitle")
    .data(sizeClasses)
    .enter()
    .append("text")
    .attr("class", "coltitle")
    .attr("x", (d, i) => (colL[i] + colR[i]) / 2)
    .attr("y", 101)
    .attr("text-anchor", "middle")
    .attr("font-size", 48)
    .attr("font-weight", "bold")
    .attr("font-family", FONT)
    .text(d => d);

// row labels
svg.selectAll("text.rowlab")
    .data(habitats)
    .enter()
    .append("text")
    .attr("class", "rowlab")
    .attr("x", 3170)
    .attr("y", (d, i) => rowB[i] - 4)
    .attr("font-size", 58)
    .attr("font-weight", "bold")
    .attr("font-family", FONT)
    .text(d => d);

// axis titles
svg.append("text")
    .attr("transform", "translate(102,1380) rotate(-90)")
    .attr("text-anchor", "middle")
    .attr("font-size", 48)
    .attr("font-weight", "bold")
    .attr("font-family", FONT)
    .text("kmm (r)");

svg.append("text")
    .attr("x", 1641)
    .attr("y", 2712)
    .attr("text-anchor", "middle")
    .attr("font-size", 48)
    .attr("font-weight", "bold")
    .attr("font-family", FONT)
    .text("r (m)");
</script>
</body>
</html>
